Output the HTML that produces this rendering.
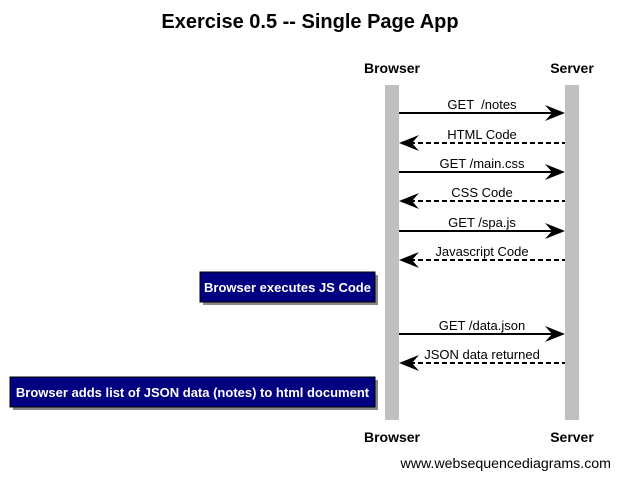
<!DOCTYPE html>
<html><head><style>body{margin:0;background:#fff}</style></head><body>
<svg width="620" height="479" xmlns="http://www.w3.org/2000/svg" font-family="Liberation Sans, Arial, sans-serif">
<rect width="620" height="479" fill="#fff"/>
<text x="310" y="28" text-anchor="middle" font-size="20" font-weight="bold">Exercise 0.5 -- Single Page App</text>
<text x="392" y="73" text-anchor="middle" font-size="14" font-weight="bold">Browser</text>
<text x="572" y="73" text-anchor="middle" font-size="14" font-weight="bold">Server</text>
<text x="392" y="442" text-anchor="middle" font-size="14" font-weight="bold">Browser</text>
<text x="572" y="442" text-anchor="middle" font-size="14" font-weight="bold">Server</text>
<rect x="385" y="85" width="14" height="335" fill="#c0c0c0"/>
<rect x="565" y="85" width="14" height="335" fill="#c0c0c0"/>
<defs>
<path id="ar" d="M0,0 L-20,-8 L-13,0 L-20,8 Z" fill="#000"/>
<path id="al" d="M0,0 L20,-8 L13,0 L20,8 Z" fill="#000"/>
</defs>
<g font-size="13" text-anchor="middle" stroke-width="2">
<line x1="399" y1="113" x2="555" y2="113" stroke="#000"/><use href="#ar" x="565" y="113"/>
<text x="482" y="109" stroke="none">GET &#160;/notes</text>
<line x1="410" y1="143" x2="565" y2="143" stroke="#000" stroke-dasharray="5,3"/><use href="#al" x="399" y="143"/>
<text x="482" y="139" stroke="none">HTML Code</text>
<line x1="399" y1="172" x2="555" y2="172" stroke="#000"/><use href="#ar" x="565" y="172"/>
<text x="482" y="168" stroke="none">GET /main.css</text>
<line x1="410" y1="201" x2="565" y2="201" stroke="#000" stroke-dasharray="5,3"/><use href="#al" x="399" y="201"/>
<text x="482" y="197" stroke="none">CSS Code</text>
<line x1="399" y1="231" x2="555" y2="231" stroke="#000"/><use href="#ar" x="565" y="231"/>
<text x="482" y="227" stroke="none">GET /spa.js</text>
<line x1="410" y1="260" x2="565" y2="260" stroke="#000" stroke-dasharray="5,3"/><use href="#al" x="399" y="260"/>
<text x="482" y="256" stroke="none">Javascript Code</text>
<line x1="399" y1="334" x2="555" y2="334" stroke="#000"/><use href="#ar" x="565" y="334"/>
<text x="482" y="330" stroke="none">GET /data.json</text>
<line x1="410" y1="363" x2="565" y2="363" stroke="#000" stroke-dasharray="5,3"/><use href="#al" x="399" y="363"/>
<text x="482" y="359" stroke="none">JSON data returned</text>
</g>
<rect x="203" y="275" width="175" height="30" fill="#888"/>
<rect x="200" y="272" width="175" height="30" fill="#000080" stroke="#000" stroke-width="1"/>
<text x="287.5" y="292" text-anchor="middle" font-size="13" font-weight="bold" fill="#fff">Browser executes JS Code</text>
<rect x="13" y="380" width="365" height="30" fill="#888"/>
<rect x="10" y="377" width="365" height="30" fill="#000080" stroke="#000" stroke-width="1"/>
<text x="192.5" y="397" text-anchor="middle" font-size="13" font-weight="bold" fill="#fff">Browser adds list of JSON data (notes) to html document</text>
<text x="611" y="468" text-anchor="end" font-size="14.2">www.websequencediagrams.com</text>
</svg>
</body></html>
